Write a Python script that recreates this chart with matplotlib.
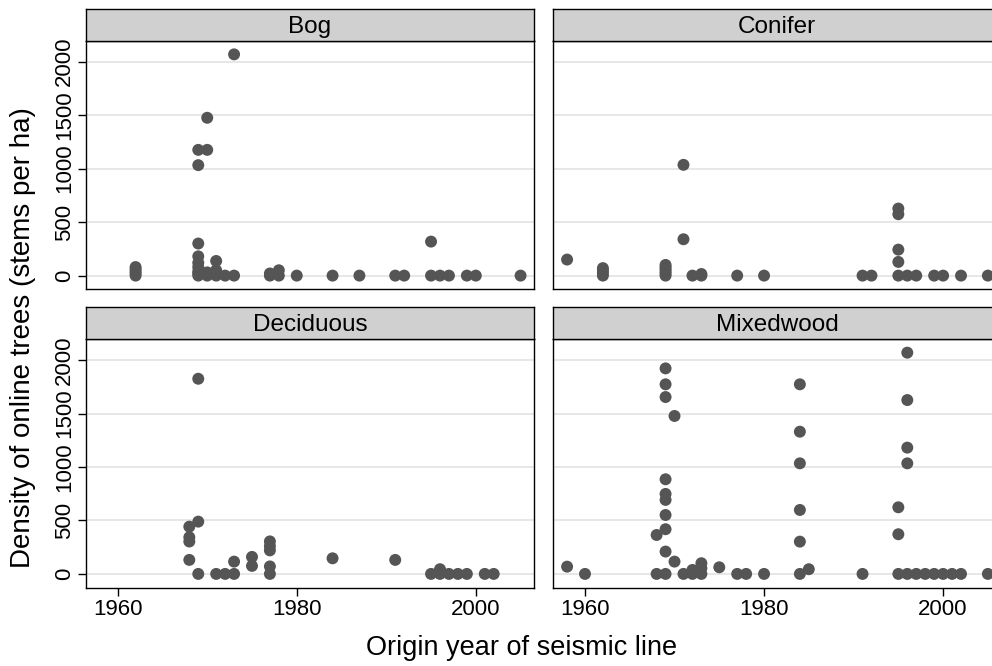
import matplotlib
matplotlib.use("Agg")
import matplotlib.pyplot as plt

plt.rcParams['font.family'] = ['Liberation Sans', 'DejaVu Sans']

panels = ['Bog', 'Conifer', 'Deciduous', 'Mixedwood']

bog_year = [1962, 1962, 1962, 1962, 1962,
            1969, 1969, 1969, 1969, 1969, 1969, 1969, 1969, 1969,
            1970, 1970, 1970, 1970, 1971, 1971, 1971, 1972, 1973, 1973,
            1977, 1977, 1978, 1978, 1980, 1984, 1987, 1991, 1992,
            1995, 1995, 1996, 1997, 1999, 2000, 2005]
bog_val = [0, 20, 40, 60, 80,
           0, 20, 40, 80, 120, 180, 300, 1033, 1176,
           0, 30, 1176, 1476, 0, 50, 137, 0, 0, 2069,
           0, 20, 0, 50, 0, 0, 0, 0, 0,
           0, 318, 0, 0, 0, 0, 0]

con_year = [1958, 1962, 1962, 1962, 1962,
            1969, 1969, 1969, 1969, 1969, 1969, 1971, 1971, 1972, 1973, 1973,
            1977, 1980, 1991, 1992, 1995, 1995, 1995, 1995, 1995,
            1996, 1997, 1999, 2000, 2002, 2005]
con_val = [150, 0, 25, 50, 70,
           0, 20, 40, 60, 80, 100, 340, 1036, 0, 0, 15,
           0, 0, 0, 0, 0, 128, 243, 574, 627,
           0, 0, 0, 0, 0, 0]

dec_year = [1968, 1968, 1968, 1968, 1969, 1969, 1969, 1971, 1972, 1973, 1973,
            1975, 1975, 1977, 1977, 1977, 1977, 1977, 1984, 1991,
            1995, 1996, 1996, 1997, 1998, 1999, 2001, 2002]
dec_val = [131, 303, 343, 442, 0, 489, 1825, 0, 0, 0, 115,
           75, 159, 0, 70, 220, 260, 304, 146, 131,
           0, 0, 44, 0, 0, 0, 0, 0]

mix_year = [1958, 1960, 1968, 1968,
            1969, 1969, 1969, 1969, 1969, 1969, 1969, 1969, 1969, 1969,
            1970, 1970, 1971, 1972, 1972, 1973, 1973, 1973, 1975,
            1977, 1978, 1980, 1984, 1984, 1984, 1984, 1984, 1984, 1985,
            1991, 1995, 1995, 1995, 1996, 1996, 1996, 1996, 1996,
            1997, 1998, 1999, 2000, 2001, 2002, 2005]
mix_val = [68, 0, 0, 364,
           0, 209, 418, 551, 692, 748, 885, 1654, 1773, 1922,
           115, 1477, 0, 0, 37, 0, 53, 100, 62,
           0, 0, 0, 0, 302, 598, 1034, 1330, 1773, 44,
           0, 0, 371, 623, 0, 1034, 1181, 1626, 2069,
           0, 0, 0, 0, 0, 0, 0]

data = {'Bog': (bog_year, bog_val), 'Conifer': (con_year, con_val),
        'Deciduous': (dec_year, dec_val), 'Mixedwood': (mix_year, mix_val)}

x_ticks = [1960, 1980, 2000]
y_ticks = [0, 500, 1000, 1500, 2000]

W, H = 992, 666
fig = plt.figure(figsize=(W / 100, H / 100), dpi=100)

# panel boxes in pixels (left / top edges), right column runs past the edge
lefts = [86, 553.3]
tops = [41, 339.3]
pw, ph, sh = 448, 248.3, 32

for i, name in enumerate(panels):
    row, col = divmod(i, 2)
    l, t = lefts[col], tops[row]
    ax = fig.add_axes([l / W, 1 - (t + ph) / H, pw / W, ph / H])
    yrs, vals = data[name]
    ax.scatter(yrs, vals, s=74, color='#555555', edgecolors='none', zorder=3)
    ax.set_xlim(1956.46, 2006.5)
    ax.set_ylim(-128, 2194)
    ax.set_yticks(y_ticks)
    ax.set_xticks(x_ticks)
    for v in y_ticks:
        ax.axhline(v, color='#e3e3e3', lw=1.2, zorder=1)
    for s in ax.spines.values():
        s.set_color('black')
        s.set_linewidth(1.0)
    ax.tick_params(length=6, width=1, labelsize=16, pad=2)
    if col == 0:
        for lab in ax.get_yticklabels():
            lab.set_rotation(90)
            lab.set_va('center')
    else:
        ax.tick_params(axis='y', left=False, labelleft=False)
    if row == 0:
        ax.tick_params(axis='x', bottom=False, labelbottom=False)

    # strip
    sa = fig.add_axes([l / W, 1 - t / H, pw / W, sh / H])
    sa.set_facecolor('#d0d0d0')
    sa.set_xticks([])
    sa.set_yticks([])
    for s in sa.spines.values():
        s.set_color('black')
        s.set_linewidth(1.0)
    sa.text(0.5, 0.45, name, ha='center', va='center', fontsize=17.5,
            transform=sa.transAxes)

fig.text(522 / W, 1 - 648 / H, 'Origin year of seismic line',
         ha='center', va='center', fontsize=19.5)
fig.text(23 / W, 1 - 338 / H, 'Density of online trees (stems per ha)',
         ha='center', va='center', rotation=90, fontsize=20)

fig.savefig('out.png', dpi=100)
